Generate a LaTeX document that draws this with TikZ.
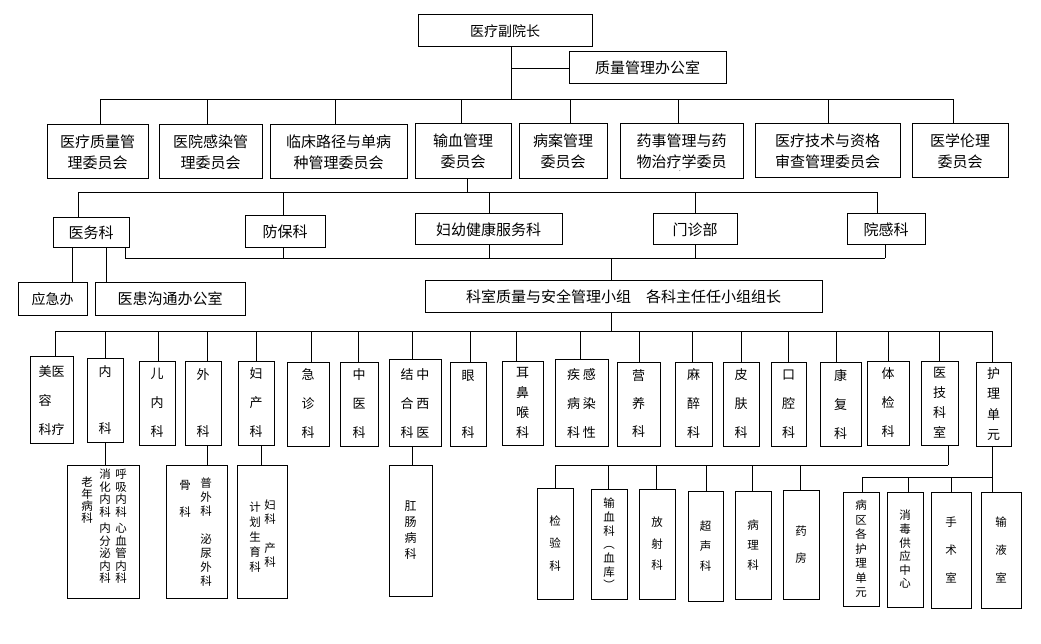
\documentclass[tikz,border=0pt]{standalone}
\usepackage{fontspec}
\setmainfont{Noto Sans CJK SC}
\tikzset{
  box/.style={draw, line width=1pt, inner sep=0pt, align=center},
  wybox/.style={box, font=\fontsize{15}{21}\selectfont, minimum height=54pt},
  ksbox/.style={box, font=\fontsize{15}{18}\selectfont},
  colbox/.style={box, font=\fontsize{13}{29}\selectfont, minimum height=84pt},
  subbox/.style={box, font=\fontsize{11.5}{14}\selectfont},
  coltext/.style={inner sep=0pt, align=center, font=\fontsize{11.5}{12.5}\selectfont},
  link/.style={line width=0.9pt},
}

\begin{document}
\begin{tikzpicture}[x=1pt,y=-1pt]
\useasboundingbox (0,0) rectangle (1041,644);
\coordinate (bus1) at (0,99);
\coordinate (bus2) at (0,192);
\coordinate (bus3) at (0,258);
\coordinate (bus4) at (0,331);
\coordinate (bus5) at (0,465);
\coordinate (bus6) at (0,477);

% 院长、办公室
\node[box, font=\fontsize{14}{16}\selectfont, minimum width=174pt, minimum height=32pt] (top) at (505,31) {医疗副院长};
\node[ksbox, minimum width=157pt, minimum height=32pt] (zlb) at (647.5,68) {质量管理办公室};

% 委员会
\node[wybox, minimum width=101pt] (wy1) at (97.5,152) {医疗质量管\\理委员会};
\node[wybox, minimum width=103pt] (wy2) at (210.5,152) {医院感染管\\理委员会};
\node[wybox, minimum width=137pt] (wy3) at (338.5,152) {临床路径与单病\\种管理委员会};
\node[wybox, minimum width=96pt, minimum height=55pt] (wy4) at (463,151.5) {输血管理\\委员会};
\node[wybox, minimum width=88pt, minimum height=55pt] (wy5) at (563,151.5) {病案管理\\委员会};
\node[wybox, minimum width=123pt, minimum height=55pt] (wy6) at (681.5,151.5) {药事管理与药\\物治疗学委员};
\node[wybox, minimum width=145pt] (wy7) at (827.5,151) {医疗技术与资格\\审查管理委员会};
\node[wybox, minimum width=96pt] (wy8) at (960,151) {医学伦理\\委员会};
\node[font=\fontsize{5}{5}\selectfont, inner sep=0pt] (mark) at (678,172) {‘};

% 职能科室
\node[ksbox, minimum width=76pt, minimum height=30pt] (yw) at (91,233) {医务科};
\node[ksbox, minimum width=80pt, minimum height=32pt] (fb) at (285,232) {防保科};
\node[ksbox, minimum width=147pt, minimum height=31pt] (fy) at (488.5,229.5) {妇幼健康服务科};
\node[ksbox, minimum width=84pt, minimum height=31pt] (mz) at (695,229.5) {门诊部};
\node[ksbox, minimum width=78pt, minimum height=31pt] (yg) at (886,229.5) {院感科};
\node[ksbox, minimum width=69pt, minimum height=32pt, font=\fontsize{14}{16}\selectfont] (yj) at (52.5,299) {应急办};
\node[ksbox, minimum width=150pt, minimum height=32pt] (yh) at (170,299) {医患沟通办公室};
\node[ksbox, minimum width=397pt, minimum height=31pt] (ksz) at (623.5,296.5) {科室质量与安全管理小组　各科主任任小组组长};

% 临床科室
\node[colbox, minimum width=43pt] (mrky) at (51.5,400) {\begin{tabular}{@{}c@{}c@{}}美&医\\容&\\科&疗\end{tabular}};
\node[colbox, minimum width=36pt] (nk) at (105,400.5) {内\\[28pt]科};
\node[colbox, minimum width=36pt] (enk) at (157,403) {儿\\内\\科};
\node[colbox, minimum width=36pt] (wk) at (203,403) {外\\[28pt]科};
\node[colbox, minimum width=36pt] (fck) at (256,403) {妇\\产\\科};
\node[colbox, minimum width=42pt] (jzk) at (308,404) {急\\诊\\科};
\node[colbox, minimum width=38pt] (zyk) at (359,404) {中\\医\\科};
\node[colbox, minimum width=52pt] (zxy) at (415,403) {\begin{tabular}{@{}c@{\hspace{3pt}}c@{}}结&中\\合&西\\科&医\end{tabular}};
\node[colbox, minimum width=36pt] (yk) at (468,404) {眼\\[28pt]科};
\node[colbox, minimum width=41pt, font=\fontsize{13}{20}\selectfont] (ebh) at (522.5,403) {耳\\鼻\\喉\\科};
\node[colbox, minimum width=53pt] (grx) at (581.5,403) {\begin{tabular}{@{}c@{\hspace{3pt}}c@{}}疾&感\\病&染\\科&性\end{tabular}};
\node[colbox, minimum width=43pt, font=\fontsize{13}{28}\selectfont] (yyk) at (638.5,404) {营\\养\\科};
\node[colbox, minimum width=37pt] (mzk) at (693.5,404) {麻\\醉\\科};
\node[colbox, minimum width=36pt] (pfk) at (741,404) {皮\\肤\\科};
\node[colbox, minimum width=35pt] (kqk) at (788.5,404) {口\\腔\\科};
\node[colbox, minimum width=41pt] (kfk) at (840.5,404) {康\\复\\科};
\node[colbox, minimum width=42pt] (tjk) at (888,403) {体\\检\\科};
\node[colbox, minimum width=37pt, font=\fontsize{13}{20}\selectfont] (yjks) at (939.5,403) {医\\技\\科\\室};
\node[colbox, minimum width=35pt, font=\fontsize{13}{20.5}\selectfont] (hldy) at (993.5,404) {护\\理\\单\\元};

% 下属科室
\node[box, minimum width=72pt, minimum height=133pt] (nksub) at (103,531.5) {};
\node[coltext] (hxnk) at (121,526.5) {呼\\吸\\内\\科\\[4pt]心\\血\\管\\内\\科};
\node[coltext] (xhnk) at (105,526.5) {消\\化\\内\\科\\[4pt]内\\分\\泌\\内\\科};
\node[coltext, font=\fontsize{11.5}{12}\selectfont] (lnbk) at (87,500.5) {老\\年\\病\\科};
\node[box, minimum width=61pt, minimum height=133pt] (wksub) at (196.5,531.5) {};
\node[coltext, font=\fontsize{11.5}{14}\selectfont] (pwmw) at (206,532.5) {普\\外\\科\\[14pt]泌\\尿\\外\\科};
\node[coltext, font=\fontsize{11.5}{14}\selectfont] (gk) at (185,498.5) {骨\\[13pt]科};
\node[box, minimum width=50pt, minimum height=133pt] (fcsub) at (262,531.5) {};
\node[coltext, font=\fontsize{11.5}{13.5}\selectfont] (fkck) at (270,533.5) {妇\\科\\[16pt]产\\科};
\node[coltext, font=\fontsize{11.5}{15}\selectfont] (jhsy) at (255,537) {计\\划\\生\\育\\科};
\node[subbox, minimum width=43pt, minimum height=131pt, font=\fontsize{12}{16}\selectfont] (gck) at (410.5,530.5) {肛\\肠\\病\\科};

\node[subbox, minimum width=36pt, minimum height=111pt, font=\fontsize{11.5}{22.5}\selectfont] (jyk) at (555,543.5) {检\\验\\科};
\node[subbox, minimum width=36pt, minimum height=110pt, font=\fontsize{11.5}{13.7}\selectfont] (sxk) at (609,544) {输\\血\\科\\︵\\血\\库\\︶};
\node[subbox, minimum width=36pt, minimum height=110pt, font=\fontsize{11.5}{21.5}\selectfont] (fsk) at (657,544) {放\\射\\科};
\node[subbox, minimum width=35pt, minimum height=110pt, font=\fontsize{11.5}{20}\selectfont] (csk) at (705.5,546) {超\\声\\科};
\node[subbox, minimum width=36pt, minimum height=108pt, font=\fontsize{11.5}{20}\selectfont] (blk) at (753,545) {病\\理\\科};
\node[subbox, minimum width=36pt, minimum height=109pt, font=\fontsize{11.5}{27}\selectfont] (yf) at (801,544.5) {药\\房};
\node[subbox, minimum width=36pt, minimum height=114pt, font=\fontsize{11.5}{14.5}\selectfont] (bq) at (861,549) {病\\区\\各\\护\\理\\单\\元};
\node[subbox, minimum width=36pt, minimum height=115pt, font=\fontsize{11.5}{13.6}\selectfont] (xd) at (905,549.5) {消\\毒\\供\\应\\中\\心};
\node[subbox, minimum width=40pt, minimum height=116pt, font=\fontsize{11.5}{28}\selectfont] (ss) at (951,550) {手\\术\\室};
\node[subbox, minimum width=40pt, minimum height=116pt, font=\fontsize{11.5}{28}\selectfont] (syr) at (1001,550) {输\\液\\室};

% 连线
\coordinate (trunk) at ([xshift=6pt]top.south);
\draw[link] (trunk) -- (trunk |- bus1);
\draw[link] (zlb.west) -- (zlb.west -| trunk);
\draw[link] ([xshift=2.5pt]wy1.north |- bus1) -- ([xshift=-7pt]wy8.north |- bus1);
\foreach \n/\dx in {wy1/2.5, wy2/-3.5, wy3/-3.5, wy4/-2, wy5/7, wy6/-3.5, wy7/0.5, wy8/-7}
  \draw[link] ([xshift=\dx pt]\n.north) -- ([xshift=\dx pt]\n.north |- bus1);

\draw[link] ([xshift=4pt]wy4.south) -- ([xshift=4pt]wy4.south |- bus2);
\draw[link] ([xshift=-13pt]yw.north |- bus2) -- ([xshift=-9pt]yg.north |- bus2);
\foreach \n/\dx in {yw/-13, fb/-2, fy/0.5, mz/0, yg/-9}
  \draw[link] ([xshift=\dx pt]\n.north) -- ([xshift=\dx pt]\n.north |- bus2);

\draw[link] ([xshift=34pt]yw.south |- bus3) -- ([xshift=-1pt]yg.south |- bus3);
\foreach \n/\dx in {yw/34, fb/-2, fy/0.5, mz/0, yg/-1}
  \draw[link] ([xshift=\dx pt]\n.south) -- ([xshift=\dx pt]\n.south |- bus3);
\draw[link] ([xshift=-12.5pt]ksz.north) -- ([xshift=-12.5pt]ksz.north |- bus3);
\draw[link] ([xshift=-12.5pt]ksz.south) -- ([xshift=-12.5pt]ksz.south |- bus4);
\draw[link] ([xshift=19.5pt]yj.north) -- ([xshift=19.5pt]yj.north |- yw.south);
\draw[link] ([xshift=-64pt]yh.north) -- ([xshift=-64pt]yh.north |- yw.south);

\draw[link] ([xshift=3.5pt]mrky.north |- bus4) -- ([xshift=-1.5pt]hldy.north |- bus4);
\foreach \n/\dx in {mrky/3.5, nk/0, enk/1, wk/4, fck/0, jzk/3, zyk/-1, zxy/-3, yk/2, ebh/-6.5,
  grx/-1.5, yyk/0.5, mzk/-1.5, pfk/0, kqk/-0.5, kfk/-4.5, tjk/0, yjks/-0.5, hldy/-1.5}
  \draw[link] ([xshift=\dx pt]\n.north) -- ([xshift=\dx pt]\n.north |- bus4);

\draw[link] (nk.south) -- (nk.south |- nksub.north);
\draw[link] ([xshift=4pt]wk.south) -- ([xshift=4pt]wk.south |- wksub.north);
\draw[link] ([xshift=5pt]fck.south) -- ([xshift=5pt]fck.south |- fcsub.north);
\draw[link] ([xshift=-3pt]zxy.south) -- ([xshift=-3pt]zxy.south |- gck.north);

\draw[link] ([xshift=8.5pt]yjks.south) -- ([xshift=8.5pt]yjks.south |- bus5);
\draw[link] (jyk.north |- bus5) -- ([xshift=8.5pt]yjks.south |- bus5);
\foreach \n/\dx in {jyk/0, sxk/-1, fsk/-1, csk/0.5, blk/-1, yf/-1}
  \draw[link] ([xshift=\dx pt]\n.north) -- ([xshift=\dx pt]\n.north |- bus5);

\draw[link] ([xshift=-1.5pt]hldy.south) -- ([xshift=-1.5pt]hldy.south |- syr.north);
\draw[link] ([xshift=1pt]bq.north |- bus6) -- ([xshift=-1.5pt]hldy.south |- bus6);
\foreach \n/\dx in {bq/1, xd/3, ss/0}
  \draw[link] ([xshift=\dx pt]\n.north) -- ([xshift=\dx pt]\n.north |- bus6);
\end{tikzpicture}
\end{document}
